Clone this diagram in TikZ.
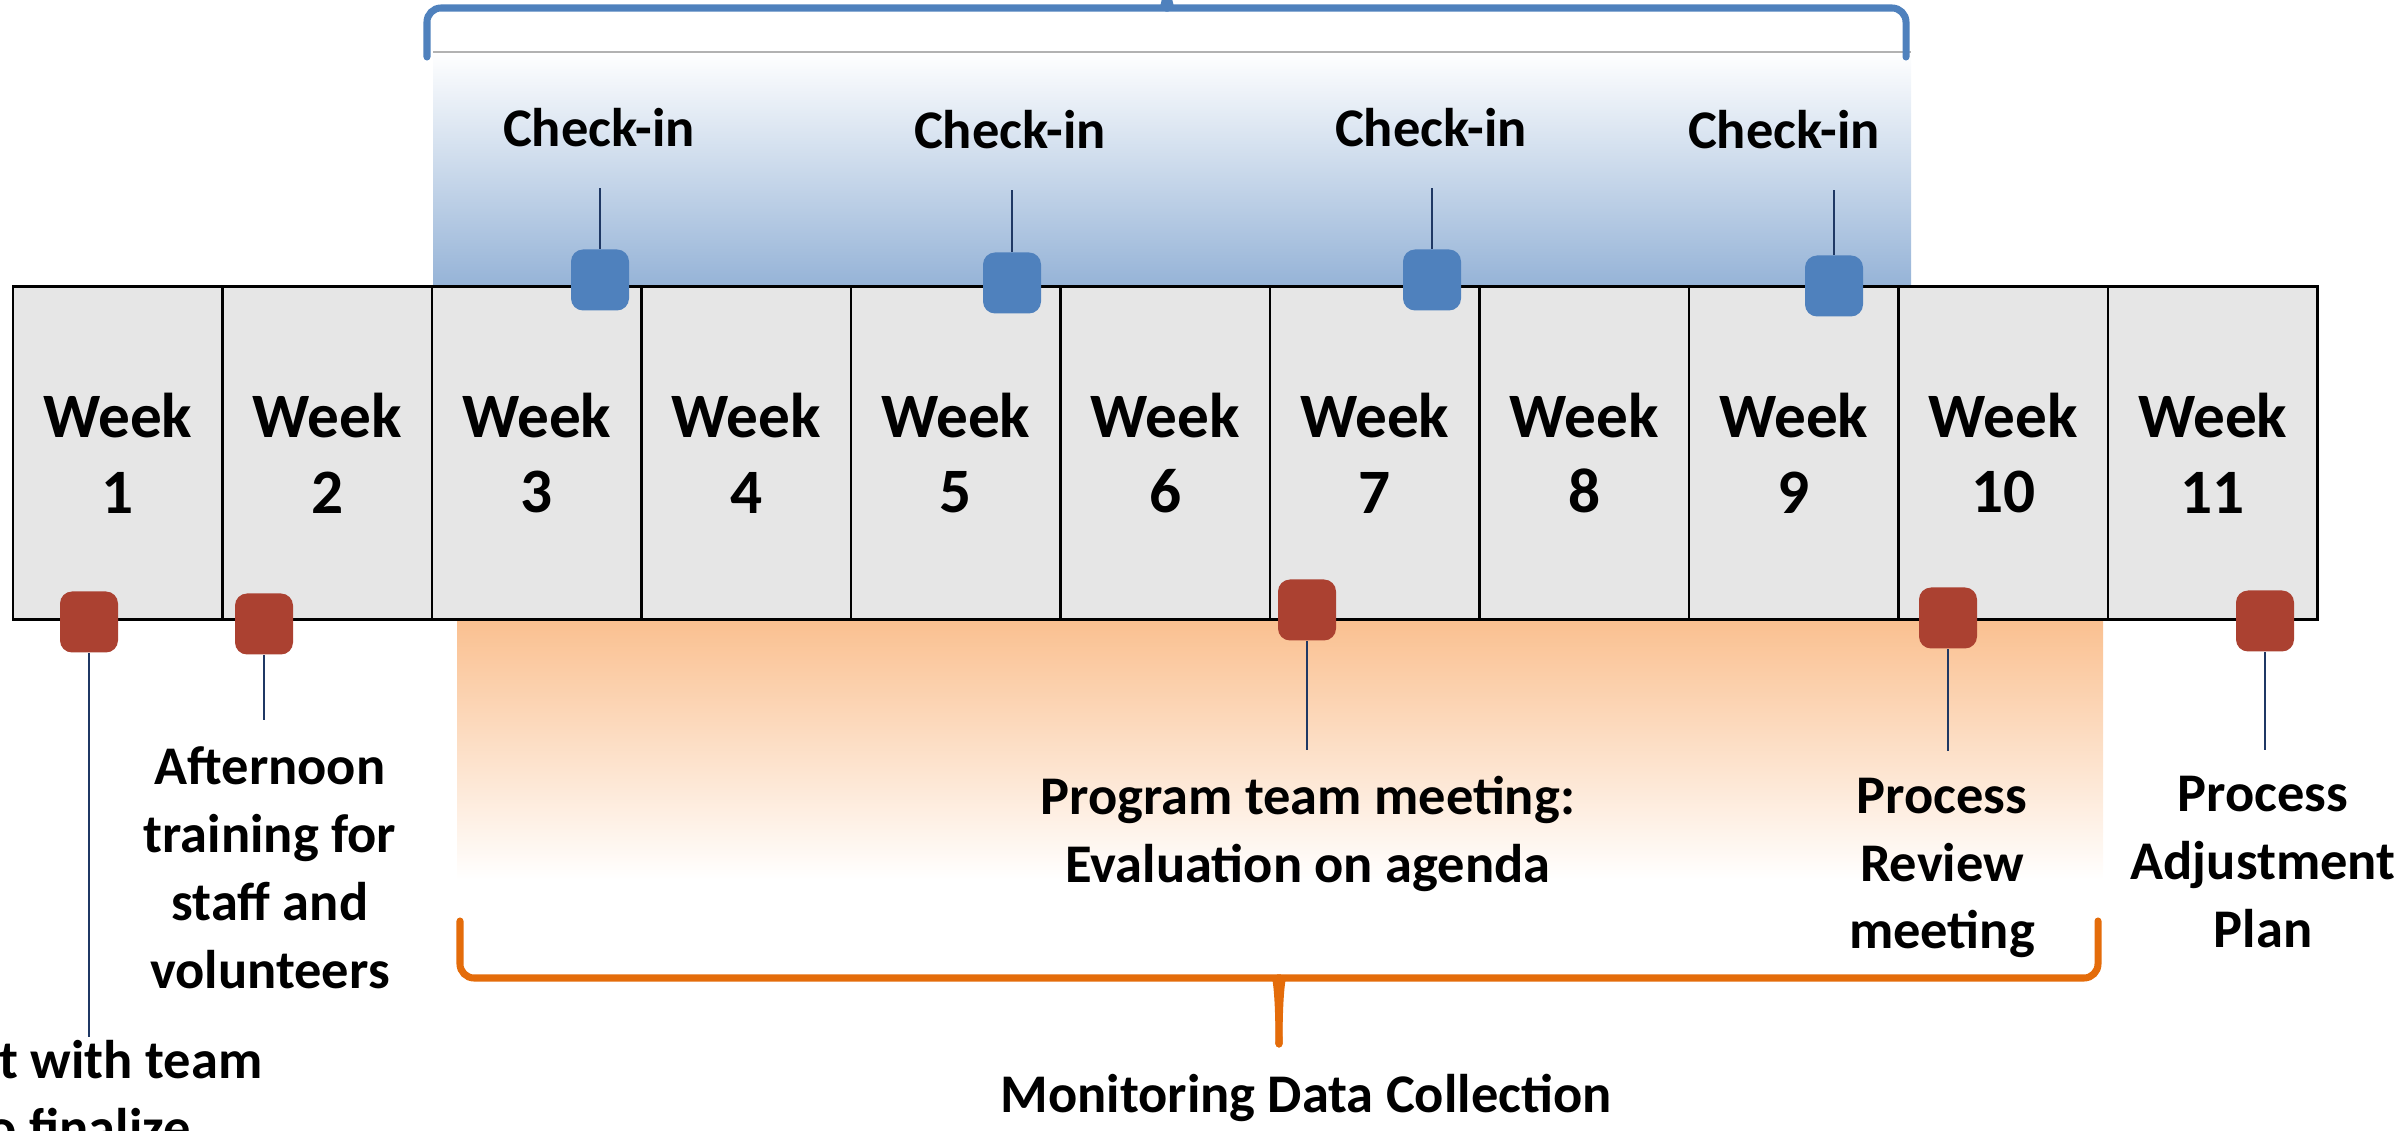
\documentclass[tikz,border=0pt]{standalone}
\usepackage{fontspec}
\setmainfont{Carlito}
\usetikzlibrary{positioning}
\definecolor{checkblue}{HTML}{4F81BD}
\definecolor{bandblue}{HTML}{95B3D7}
\definecolor{eventred}{HTML}{AB4131}
\definecolor{bandorange}{HTML}{FAC090}
\definecolor{braceorange}{HTML}{E46C0A}
\definecolor{stemnavy}{HTML}{1F3864}
\definecolor{cellgray}{HTML}{E6E6E6}
\tikzset
{
    weekcell/.style = {rectangle, draw=black, line width=0.8pt, fill=cellgray, minimum width=20.95mm, minimum height=33.3mm, inner sep=0pt, align=center, font=\fontsize{18}{21.6}\selectfont\bfseries},
    marker/.style   = {rectangle, rounded corners=1.2mm, minimum width=5.8mm, minimum height=6.1mm, inner sep=0pt},
    checkin/.style  = {marker, fill=checkblue},
    event/.style    = {marker, fill=eventred},
    notetext/.style = {align=center, inner sep=0pt, font=\fontsize{15.5}{19.3}\selectfont\bfseries},
    stem/.style     = {draw=stemnavy, line width=0.5pt},
    brace/.style    = {line width=2pt, line cap=round}
}

\begin{document}
\begin{tikzpicture}[x=0.1mm, y=-0.1mm]
    \clip (0,0) rectangle (2407,1131);

    % coloured bands behind the weeks
    \shade[top color=white, bottom color=bandblue] (433,52) rectangle (1911,287);
    \draw[gray!60, line width=0.4pt] (433,52) -- (1911,52);
    \shade[top color=bandorange, middle color=bandorange!55, bottom color=white] (457,620) rectangle (2103,880);

    % braces
    \draw[brace, checkblue] (427,57) [rounded corners=1.4mm] -- (427,8) -- (1150,8) [sharp corners] .. controls (1162,8) and (1167,2) .. (1167,-20);
    \draw[brace, checkblue] (1906,57) [rounded corners=1.4mm] -- (1906,8) -- (1184,8) [sharp corners] .. controls (1172,8) and (1167,2) .. (1167,-20);
    \draw[brace, braceorange] (460,921) [rounded corners=1.4mm] -- (460,978) -- (1262,978) [sharp corners] .. controls (1275,978) and (1279,986) .. (1279,1044);
    \draw[brace, braceorange] (2098,921) [rounded corners=1.4mm] -- (2098,978) -- (1296,978) [sharp corners] .. controls (1283,978) and (1279,986) .. (1279,1044);

    % the weeks
    \foreach \i in {1,...,11}
        \node[weekcell] (w\i) at ({13+209.5*(\i-0.5)},453) {Week\\\i};

    % check-ins
    \node[checkin] (ci1) at (600,280) {};
    \node[checkin] (ci2) at (1012,283) {};
    \node[checkin] (ci3) at (1432,280) {};
    \node[checkin] (ci4) at (1834,286) {};
    \node[notetext] (ck1) at (599,128) {Check-in};
    \node[notetext] (ck2) at (1010,130) {Check-in};
    \node[notetext] (ck3) at (1431,128) {Check-in};
    \node[notetext] (ck4) at (1784,130) {Check-in};
    \foreach \i in {1,...,4}
        \draw[stem, shorten >=4mm] (ci\i.north) -- (ci\i.north |- ck\i.south);

    % events below the weeks
    \node[event] (ev1) at (89,622) {};
    \node[event] (ev2) at (264,624) {};
    \node[event] (ev3) at (1307,610) {};
    \node[event] (ev4) at (1948,618) {};
    \node[event] (ev5) at (2265,621) {};
    \node[notetext, anchor=north] (ev1txt) at (80,1040) {Meet with team\\to finalize};
    \node[notetext] (ev2txt) at (270,868) {Afternoon\\training for\\staff and\\volunteers};
    \node[notetext] (ev3txt) at (1308,834) {Program team meeting:\\Evaluation on agenda};
    \node[notetext] (ev4txt) at (1942,868) {Process\\Review\\meeting};
    \node[notetext] (ev5txt) at (2263,862) {Process\\Adjustment\\Plan};
    \draw[stem, shorten >=0.3mm] (ev1.south) -- (ev1.south |- ev1txt.north);
    \foreach \i in {2,...,5}
        \draw[stem, shorten >=2.6mm] (ev\i.south) -- (ev\i.south |- ev\i txt.north);

    \node[notetext] (mdc) at (1306,1098) {Monitoring Data Collection};
\end{tikzpicture}
\end{document}
